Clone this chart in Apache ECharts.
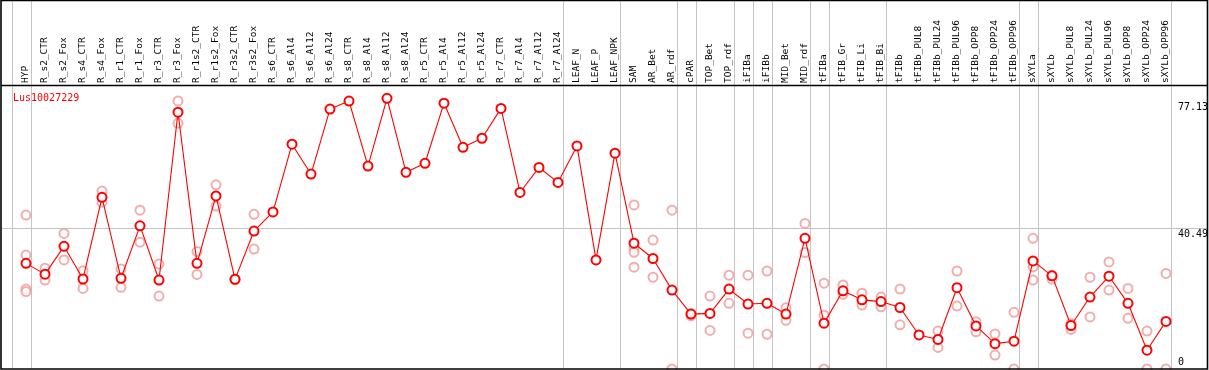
<!DOCTYPE html>
<html><head><meta charset="utf-8">
<script src="https://cdn.jsdelivr.net/npm/echarts@6/dist/echarts.min.js"></script>
<style>html,body{margin:0;padding:0;background:#fff}#c{width:1209px;height:370px}</style>
</head><body><div id="c"></div>
<script>
const titleText = 'Lus10027229';
const categories = ['HYP','R_s2_CTR','R_s2_Fox','R_s4_CTR','R_s4_Fox','R_r1_CTR','R_r1_Fox','R_r3_CTR','R_r3_Fox','R_r1s2_CTR','R_r1s2_Fox','R_r3s2_CTR','R_r3s2_Fox','R_s6_CTR','R_s6_Al4','R_s6_Al12','R_s6_Al24','R_s8_CTR','R_s8_Al4','R_s8_Al12','R_s8_Al24','R_r5_CTR','R_r5_Al4','R_r5_Al12','R_r5_Al24','R_r7_CTR','R_r7_Al4','R_r7_Al12','R_r7_Al24','LEAF_N','LEAF_P','LEAF_NPK','SAM','AR_Bet','AR_rdf','cPAR','TOP_Bet','TOP_rdf','iFIBa','iFIBb','MID_Bet','MID_rdf','tFIBa','tFIB_Gr','tFIB_Li','tFIB_Bi','tFIBb','tFIBb_PUL8','tFIBb_PUL24','tFIBb_PUL96','tFIBb_OPP8','tFIBb_OPP24','tFIBb_OPP96','sXYLa','sXYLb','sXYLb_PUL8','sXYLb_PUL24','sXYLb_PUL96','sXYLb_OPP8','sXYLb_OPP24','sXYLb_OPP96'];
const means = [30.4,27.3,35.3,25.9,49.4,26.1,41.2,25.6,73.9,30.4,49.8,25.8,39.7,45.2,64.7,56.1,74.8,77.1,58.4,77.9,56.6,59.2,76.5,63.8,66.4,75.0,50.8,58.0,53.7,64.2,31.4,62.1,36.2,31.8,22.7,15.8,16.0,23.0,18.7,18.9,15.8,37.6,13.2,22.5,19.9,19.4,17.7,9.8,8.5,23.4,12.4,7.3,8.0,31.1,26.8,12.5,20.7,26.7,18.9,5.4,13.7];
const replicates = [
  [44.3,32.8,23.0,22.3],[29.0,25.6],[39.0,31.4],[28.3,23.2],[51.2,48.0],[28.8,23.5],[45.7,36.5],[30.2,21.0],[77.13,70.7],[33.8,27.2],
  [53.0,46.9],[25.9,25.7],[44.5,34.5],[],[],[],[],[],[],[],
  [],[],[],[],[],[],[],[],[],[],
  [],[],[47.2,34.7,33.6,29.3],[37.1,26.4],[45.7,0],[15.9,15.3],[21.0,11.1],[27.0,18.9],[27.0,10.3],[28.2,10.0],
  [17.6,14.0],[41.9,33.5],[24.7,15.5,0],[24.2,21.5],[21.8,18.4],[20.7,17.9],[23.0,12.7],[],[10.9,6.2],[28.2,18.1],
  [13.6,10.7],[10.1,4.0],[16.3,0],[37.6,29.4,25.6],[27.0,25.9],[13.1,11.4],[26.4,15.0],[30.8,22.7],[23.2,14.6],[10.9,0],
  [27.5,0]
];
const yTickValues = [0, 40.49, 77.13];
const separatorsAfter = [-1,0,28,31,34,35,37,38,39,41,42,45,52,53,60];

const FONT = 'DejaVu Sans Mono';
const repData = [];
replicates.forEach((arr, i) => arr.forEach(v => repData.push([i, v])));

const chart = echarts.init(document.getElementById('c'), null, {renderer: 'canvas'});
const option = {
  animation: false,
  backgroundColor: '#fff',
  title: {
    text: titleText, left: 8, top: 88,
    textStyle: {color: '#ff0000', fontFamily: FONT, fontSize: 10, fontWeight: 'normal'}
  },
  grid: {left: 16.5, right: 33.5, top: 86, bottom: 1, containLabel: false},
  xAxis: {
    type: 'category', data: categories, position: 'top', boundaryGap: true,
    axisLine: {show: false}, axisTick: {show: false}, splitLine: {show: false},
    axisLabel: {rotate: 90, interval: 0, margin: 3, color: '#000', fontFamily: FONT, fontSize: 9.5}
  },
  yAxis: {
    type: 'value', min: 0, max: 81.44,
    axisLine: {show: false}, axisTick: {show: false}, axisLabel: {show: false}, splitLine: {show: false}
  },
  series: [
    {
      name: 'replicates', type: 'scatter', data: repData, z: 2,
      symbol: 'emptyCircle', symbolSize: 9,
      itemStyle: {color: '#ee9a9a', borderColor: '#ee9a9a', borderWidth: 1.3}
    },
    {
      name: 'mean', type: 'line', data: means, z: 3,
      symbol: 'emptyCircle', symbolSize: 9,
      lineStyle: {color: '#ff0000', width: 1.1},
      itemStyle: {color: '#ff0000', borderColor: '#ff0000', borderWidth: 1.6}
    }
  ]
};
chart.setOption(option);

const px0 = chart.convertToPixel({xAxisIndex: 0}, 0);
const px1 = chart.convertToPixel({xAxisIndex: 0}, 1);
const step = px1 - px0;
const W = 1209, BOTTOM = 369;
const graphics = [];
separatorsAfter.forEach(s => {
  const x = Math.round(px0 + (s + 0.24) * step) + 0.5;
  graphics.push({type: 'line', z: 0, silent: true,
    shape: {x1: x, y1: 0, x2: x, y2: BOTTOM}, style: {stroke: '#c4c4c4', lineWidth: 1}});
});
const yg = Math.round(chart.convertToPixel({yAxisIndex: 0}, yTickValues[1])) + 0.5;
graphics.push({type: 'line', z: 0, silent: true,
  shape: {x1: 1, y1: yg, x2: W - 1, y2: yg}, style: {stroke: '#c4c4c4', lineWidth: 1}});
yTickValues.forEach((v, k) => {
  const y = chart.convertToPixel({yAxisIndex: 0}, v);
  const isMin = k === 0;
  graphics.push({type: 'text', z: 20, silent: true, x: 1178, y: isMin ? y - 2 : y + 1,
    style: {text: String(v), fill: '#000', font: '10px "' + FONT + '"',
      textAlign: 'left', textVerticalAlign: isMin ? 'bottom' : 'top'}});
});
graphics.push({type: 'line', z: 20, silent: true,
  shape: {x1: 1, y1: 85.5, x2: W - 1, y2: 85.5}, style: {stroke: '#000', lineWidth: 1.6}});
graphics.push({type: 'rect', z: 20, silent: true,
  shape: {x: 1, y: 0.5, width: W - 2.5, height: 368.5}, style: {fill: 'none', stroke: '#000', lineWidth: 1.6}});
chart.setOption({graphic: graphics});
</script>
</body></html>
